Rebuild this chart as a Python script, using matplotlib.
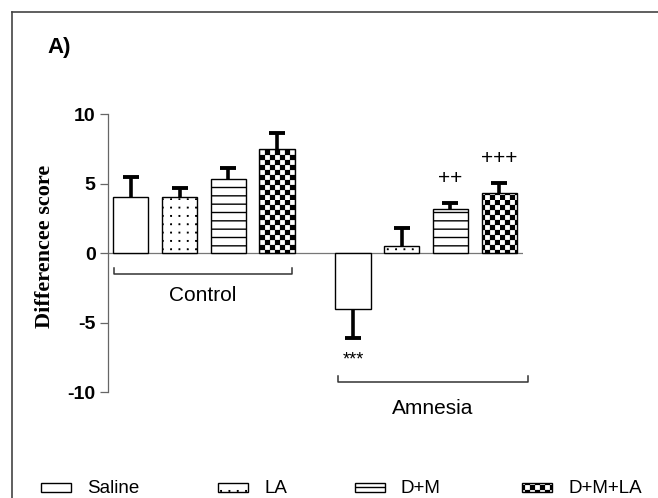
import warnings

import numpy as np
import matplotlib
matplotlib.use("Agg")
import matplotlib.pyplot as plt
from matplotlib import hatch as mhatch
from matplotlib.lines import Line2D
from matplotlib.patches import Rectangle
from matplotlib.path import Path

warnings.filterwarnings("ignore", message="hatch must consist")

# ── data ──────────────────────────────────────────────────────────────────────
GROUPS = ["Control", "Amnesia"]
TREATMENTS = ["Saline", "LA", "D+M", "D+M+LA"]
CONTROL_MEAN = [4.0, 4.0, 5.3, 7.5]
CONTROL_SEM = [1.45, 0.7, 0.85, 1.1]
AMNESIA_MEAN = [-4.0, 0.5, 3.15, 4.35]
AMNESIA_SEM = [2.1, 1.3, 0.45, 0.7]
AMNESIA_SIG = ["***", "", "++", "+++"]
YTICKS = [-10, -5, 0, 5, 10]


# ── custom hatches: checkerboard ('c') and a square grid of fine dots ('d') ─────
def _square(vertices, codes, k, x0, y0, size):
    x1, y1 = x0 + size, y0 + size
    vertices[k:k + 5] = [(x0, y0), (x1, y0), (x1, y1), (x0, y1), (x0, y0)]
    codes[k:k + 5] = [Path.MOVETO, Path.LINETO, Path.LINETO,
                      Path.LINETO, Path.CLOSEPOLY]


class CheckerHatch(mhatch.HatchPatternBase):
    def __init__(self, hatch, density):
        self.num_cells = 20 if "c" in hatch else 0
        self.num_vertices = (self.num_cells ** 2 // 2) * 5

    def set_vertices_and_codes(self, vertices, codes):
        n = self.num_cells
        step = 1.0 / n
        inset = 0.006
        k = 0
        for i in range(n):
            for j in range(n):
                if (i + j) % 2:
                    continue
                _square(vertices, codes, k, i * step + inset, j * step + inset,
                        step - 2 * inset)
                k += 5


class DotGridHatch(mhatch.HatchPatternBase):
    def __init__(self, hatch, density):
        self.num_cells = 12 if "d" in hatch else 0
        self.num_vertices = self.num_cells ** 2 * 5

    def set_vertices_and_codes(self, vertices, codes):
        n = self.num_cells
        step = 1.0 / n
        k = 0
        for i in range(n):
            for j in range(n):
                _square(vertices, codes, k, (i + 0.5) * step, (j + 0.06) * step,
                        0.005)
                k += 5


mhatch._hatch_types.extend([CheckerHatch, DotGridHatch])

HATCH = ["", "d", "--", "c"]
SANS = "Liberation Sans"
SERIF = "Liberation Serif"
W, H = 658, 498

fig = plt.figure(figsize=(W / 100, H / 100), dpi=100)
ax = fig.add_axes([108 / W, (H - 392) / H, 415 / W, 278 / H])

x_ctrl = np.arange(4)
x_amn = np.arange(4) + 4.56
BAR_W = 0.72


def draw_group(xs, means, sems):
    for x, m, s, h in zip(xs, means, sems, HATCH):
        ax.bar(x, m, width=BAR_W, color="white", edgecolor="black",
               linewidth=1.0, hatch=h, zorder=2)
        # one-sided error bar: stem away from zero plus a single cap
        end = m - s if m < 0 else m + s
        ax.plot([x, x], [m, end], color="black", lw=2.6,
                solid_capstyle="butt", zorder=3)
        ax.plot([x], [end], marker="_", ms=12, mew=2.8, color="black",
                zorder=3)


draw_group(x_ctrl, CONTROL_MEAN, CONTROL_SEM)
draw_group(x_amn, AMNESIA_MEAN, AMNESIA_SEM)

ax.axhline(0, color="#777777", lw=0.9, zorder=1)
ax.set_xlim(-0.47, 8.05)
ax.set_ylim(-10, 10)
ax.set_yticks(YTICKS)
ax.set_yticklabels([str(t) for t in YTICKS], fontsize=14,
                   fontweight="bold", family=SANS)
ax.tick_params(axis="y", length=6, width=0.9, color="#666666", pad=3)
ax.set_xticks([])
for side in ("top", "right", "bottom"):
    ax.spines[side].set_visible(False)
ax.spines["left"].set_color("#666666")
ax.spines["left"].set_linewidth(0.9)

# significance marks on the amnesia bars
for x, m, s, mark in zip(x_amn, AMNESIA_MEAN, AMNESIA_SEM, AMNESIA_SIG):
    if not mark:
        continue
    if m < 0:
        ax.text(x, m - s - 1.6, mark, ha="center", va="center",
                fontsize=13, family=SANS)
    else:
        ax.text(x, m + s + 1.75, mark, ha="center", va="center",
                fontsize=15, family=SANS)

# group brackets and labels
BRACKETS = [(-0.35, 3.30, -1.51, -3.09), (4.25, 8.15, -9.28, -11.2)]
for name, (x0, x1, yb, yt) in zip(GROUPS, BRACKETS):
    ax.plot([x0, x0, x1, x1], [yb + 0.43, yb, yb, yb + 0.43], color="#333333",
            lw=1.1, clip_on=False, zorder=2)
    ax.text((x0 + x1) / 2, yt, name, ha="center", va="center",
            fontsize=15, family=SANS, clip_on=False)

fig.text(45 / W, 1 - 246 / H, "Differencee score", rotation=90, ha="center",
         va="center", fontsize=16, fontweight="bold", family=SERIF)
fig.text(47 / W, 1 - 47 / H, "A)", ha="left", va="center", fontsize=16,
         fontweight="bold", family=SANS)

# legend along the bottom
LEG_X = [41, 218, 355, 522]
for lx, name, h in zip(LEG_X, TREATMENTS, HATCH):
    fig.add_artist(Rectangle((lx / W, 1 - 492 / H), 30 / W, 9 / H,
                             transform=fig.transFigure, facecolor="white",
                             edgecolor="black", linewidth=1.0, hatch=h))
    fig.text((lx + 46) / W, 1 - 488 / H, name, ha="left", va="center",
             fontsize=13.5, family=SANS)

# outer frame
fig.add_artist(Line2D([11.5 / W, 11.5 / W], [0, 1 - 12 / H], color="#444444",
                      lw=1.2, transform=fig.transFigure))
fig.add_artist(Line2D([11.5 / W, 1], [1 - 12 / H, 1 - 12 / H], color="#444444",
                      lw=1.2, transform=fig.transFigure))

fig.savefig("out.png", dpi=100)
